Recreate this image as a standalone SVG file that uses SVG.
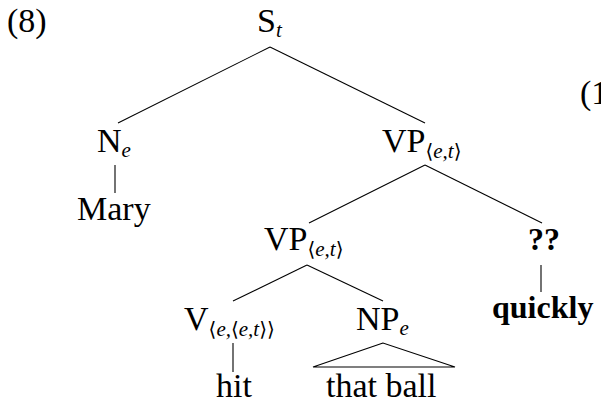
<svg xmlns="http://www.w3.org/2000/svg" width="601" height="404" viewBox="0 0 601 404">
<style>
text{font-family:"Liberation Serif","DejaVu Serif",serif;font-size:34px;fill:#000}
.s{font-size:21px;font-style:italic}
.u{font-style:normal;font-family:"DejaVu Serif",serif;font-size:20px}
.b{font-weight:bold;font-size:32px}
.e{stroke:#000;stroke-width:1.1;fill:none}
</style>
<rect width="601" height="404" fill="#fff"/>
<text x="7" y="32">(8)</text>
<text x="580" y="104">(1</text>
<g id="S"><text x="257" y="32">S<tspan class="s" dy="5">t</tspan></text></g>
<g id="N"><text x="97" y="152">N<tspan class="s" dy="5">e</tspan></text></g>
<g id="Mary"><text x="77" y="220">Mary</text></g>
<g id="VP1"><text x="382" y="152">VP<tspan class="s" dy="6"><tspan class="u">⟨</tspan>e,t<tspan class="u">⟩</tspan></tspan></text></g>
<g id="VP2"><text x="264" y="250">VP<tspan class="s" dy="6"><tspan class="u">⟨</tspan>e,t<tspan class="u">⟩</tspan></tspan></text></g>
<g id="Q"><text class="b" x="528" y="250">??</text></g>
<g id="quickly"><text class="b" x="492" y="318">quickly</text></g>
<g id="V"><text x="184" y="330">V<tspan class="s" dy="6"><tspan class="u">⟨</tspan>e,<tspan class="u">⟨</tspan>e,t<tspan class="u">⟩⟩</tspan></tspan></text></g>
<g id="NP"><text x="356" y="330">NP<tspan class="s" dy="5">e</tspan></text></g>
<g id="hit"><text x="216" y="397">hit</text></g>
<g id="thatball"><text x="326" y="397">that ball</text></g>
<g id="edges" class="e">
<line x1="270" y1="47" x2="118" y2="123"/>
<line x1="270" y1="47" x2="425" y2="123"/>
<line x1="115" y1="165" x2="115" y2="193"/>
<line x1="425" y1="165" x2="309" y2="223"/>
<line x1="425" y1="165" x2="542" y2="223"/>
<line x1="541" y1="265" x2="541" y2="292"/>
<line x1="307" y1="265" x2="233" y2="301"/>
<line x1="307" y1="265" x2="383" y2="301"/>
<line x1="233" y1="343" x2="233" y2="372"/>
<polygon points="383,343 313,367 455,367"/>
</g>
</svg>
